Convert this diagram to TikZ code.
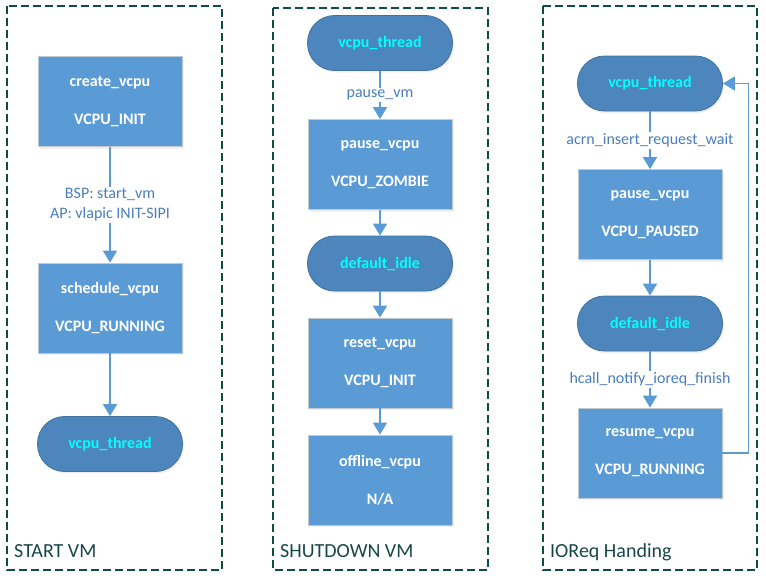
\documentclass[tikz,border=0pt]{standalone}
\usepackage{fontspec}
\setmainfont{Carlito}
\usetikzlibrary{arrows.meta,shadows}
\definecolor{boxblue}{HTML}{5B9BD5}
\definecolor{boxedge}{HTML}{C0C8D0}
\definecolor{termblue}{HTML}{4C86BC}
\definecolor{termedge}{HTML}{41719C}
\definecolor{termtext}{HTML}{00FFFF}
\definecolor{lblblue}{HTML}{4A7EBB}
\definecolor{arrblue}{HTML}{5B9BD5}
\definecolor{frame}{HTML}{0E4C46}
\definecolor{ttl}{HTML}{17474A}
\tikzset{
  statebox/.style={draw=boxedge, line width=0.8pt, fill=boxblue, text=white,
    minimum width=144pt, minimum height=90pt, inner sep=0pt, align=center,
    font=\fontsize{16}{38}\selectfont\bfseries,
    drop shadow={opacity=0.12, shadow xshift=1.5pt, shadow yshift=-2pt}},
  term/.style={draw=termedge, line width=0.8pt, fill=termblue, text=termtext,
    rounded corners=27pt, minimum width=145pt, minimum height=55pt, inner sep=0pt,
    font=\fontsize{16}{18}\selectfont\bfseries,
    drop shadow={opacity=0.12, shadow xshift=1.5pt, shadow yshift=-2pt}},
  arr/.style={draw=arrblue, line width=1.7pt, -{Triangle[length=12pt,width=14pt]}},
  lbl/.style={fill=white, text=lblblue, inner sep=1.5pt, align=center,
    font=\fontsize{16}{20}\selectfont},
  panel/.style={draw=frame, line width=1.2pt, dash pattern=on 8pt off 4pt},
  ptitle/.style={anchor=base west, text=ttl, inner sep=0pt, font=\fontsize{20}{24}\selectfont}
}
\begin{document}
\begin{tikzpicture}[x=1pt,y=-1pt]
\useasboundingbox (0,0) rectangle (766,584);
% panels
\draw[panel] (7,6) rectangle (222,570);
\draw[panel] (273,8) rectangle (488,570);
\draw[panel] (543,6) rectangle (757,570);
\node[ptitle] (t1) at (14,557) {START VM};
\node[ptitle] (t2) at (280,557) {SHUTDOWN VM};
\node[ptitle] (t3) at (550,557) {IOReq Handing};
% panel 1
\node[statebox] (p1create) at (110,101.5) {create\_vcpu\\VCPU\_INIT};
\node[statebox] (p1sched) at (110,308) {schedule\_vcpu\\VCPU\_RUNNING};
\node[term] (p1thread) at (110,444) {vcpu\_thread};
\draw[arr] (p1create) -- node[lbl]{BSP: start\_vm\\AP: vlapic INIT-SIPI} (p1sched);
\draw[arr] (p1sched) -- (p1thread);
% panel 2
\node[term] (p2thread) at (380,43) {vcpu\_thread};
\node[statebox] (p2pause) at (380,164.5) {pause\_vcpu\\VCPU\_ZOMBIE};
\node[term] (p2idle) at (380,263.5) {default\_idle};
\node[statebox] (p2reset) at (380,363) {reset\_vcpu\\VCPU\_INIT};
\node[statebox] (p2off) at (380,480) {offline\_vcpu\\N/A};
\draw[arr] (p2thread) -- node[lbl]{pause\_vm} (p2pause);
\draw[arr] (p2pause) -- (p2idle);
\draw[arr] (p2idle) -- (p2reset);
\draw[arr] (p2reset) -- (p2off);
% panel 3
\node[term] (p3thread) at (650,83.5) {vcpu\_thread};
\node[statebox] (p3pause) at (650,214.5) {pause\_vcpu\\VCPU\_PAUSED};
\node[term] (p3idle) at (650,323.5) {default\_idle};
\node[statebox] (p3resume) at (650,453) {resume\_vcpu\\VCPU\_RUNNING};
\draw[arr] (p3thread) -- node[lbl]{acrn\_insert\_request\_wait} (p3pause);
\draw[arr] (p3pause) -- (p3idle);
\draw[arr] (p3idle) -- node[lbl]{hcall\_notify\_ioreq\_finish} (p3resume);
\draw[arr] (p3resume.east) -- ++(26,0) |- (p3thread.east);
\end{tikzpicture}
\end{document}
